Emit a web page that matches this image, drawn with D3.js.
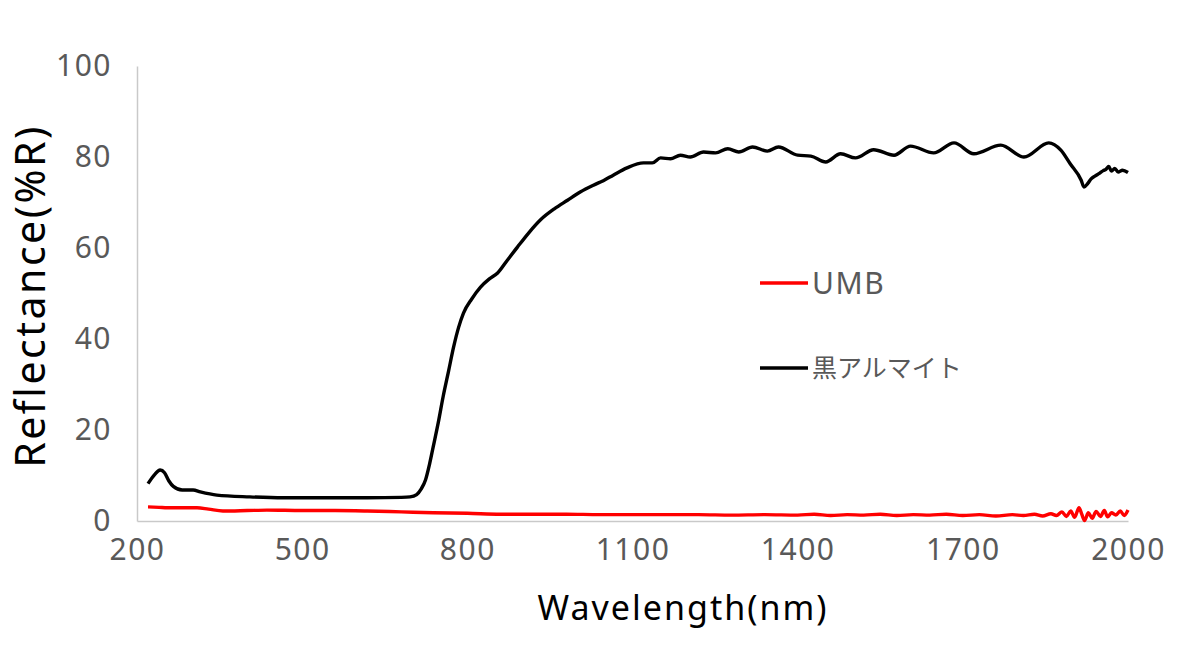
<!DOCTYPE html>
<html>
<head>
<meta charset="utf-8">
<script src="https://cdn.jsdelivr.net/npm/d3@7"></script>
<style>
  body { margin: 0; background: #fff; }
  text { font-family: "Noto Sans", "Noto Sans CJK JP", sans-serif; }
</style>
</head>
<body>
<div id="chart"></div>
<script>
// series names
var seriesNames = ["UMB", "黒アルマイト"];
var seriesColors = ["#ff0000", "#000000"];

// tick labels
var xTicks = [200, 500, 800, 1100, 1400, 1700, 2000];
var yTicks = [0, 20, 40, 60, 80, 100];

// 黒アルマイト (black anodized), wavelength nm / reflectance %
var blackWl = [220, 232, 242, 250, 258, 266, 282, 302, 315, 345, 405, 465, 540, 618, 680, 696, 708,
  716, 724, 731, 738, 747, 756, 766, 775, 784, 793, 808, 824, 840, 855, 872, 891, 912, 933, 958, 982,
  1005, 1029, 1047, 1065, 1090, 1120, 1136, 1151, 1169, 1187, 1205, 1229, 1251, 1273, 1293, 1318,
  1345, 1365, 1400, 1424, 1451, 1478, 1505, 1538, 1575, 1605, 1647, 1684, 1720, 1769, 1811, 1856,
  1878, 1895, 1915, 1920, 1927, 1933, 1940, 1948, 1955, 1960, 1965, 1970, 1976, 1982, 1990, 2000];
var blackVal = [8.2, 10.2, 11.2, 10.6, 8.8, 7.6, 6.8, 6.8, 6.4, 5.7, 5.3, 5.1, 5.1, 5.1, 5.2, 5.3, 5.8,
  7.0, 9.0, 12.3, 16.3, 21.5, 27.3, 33.0, 38.2, 42.5, 45.7, 48.8, 51.4, 53.2, 54.5, 57.2, 60.2, 63.4,
  66.2, 68.6, 70.5, 72.3, 73.8, 74.8, 76.0, 77.6, 78.7, 78.7, 79.8, 79.6, 80.4, 80.0, 81.1, 80.9, 81.8,
  81.1, 82.2, 81.3, 82.2, 80.4, 80.2, 78.9, 80.7, 79.8, 81.6, 80.4, 82.4, 80.9, 83.1, 80.7, 82.6, 80.0,
  83.1, 81.5, 78.5, 74.9, 73.4, 74.2, 75.2, 75.8, 76.4, 77.0, 77.3, 77.9, 76.9, 77.5, 76.7, 77.1, 76.6];

// UMB, wavelength nm / reflectance %
var umbWl = [220, 240, 255, 280, 309, 330, 356, 400, 436, 500, 560, 618, 680, 738, 800, 860, 920, 980,
  1040, 1100, 1160, 1220, 1280, 1340, 1400, 1430, 1460, 1490, 1520, 1550, 1580, 1610, 1640, 1670,
  1700, 1730, 1760, 1790, 1810, 1830, 1845, 1860, 1870, 1880, 1888, 1896, 1903, 1911, 1916, 1921,
  1928, 1935, 1942, 1950, 1957, 1963, 1970, 1978, 1986, 1993, 2000];
var umbVal = [3.1, 3.0, 2.9, 2.9, 2.9, 2.6, 2.2, 2.3, 2.4, 2.3, 2.3, 2.2, 2.0, 1.8, 1.7, 1.5, 1.5, 1.5,
  1.4, 1.4, 1.4, 1.4, 1.3, 1.4, 1.3, 1.5, 1.2, 1.4, 1.3, 1.5, 1.2, 1.4, 1.3, 1.5, 1.2, 1.4, 1.1, 1.4,
  1.2, 1.5, 1.1, 1.6, 1.2, 2.0, 1.0, 2.2, 0.8, 2.9, 1.5, 0.1, 1.8, 0.6, 2.1, 1.0, 2.3, 0.9, 1.8, 1.3,
  2.2, 1.2, 2.4];

var W = 1200, H = 646;
var margin = {left: 137, right: 72, top: 66, bottom: 125};

var svg = d3.select("#chart").append("svg")
  .attr("width", W)
  .attr("height", H);

var x = d3.scaleLinear().domain([200, 2000]).range([margin.left, W - margin.right]);
var y = d3.scaleLinear().domain([0, 100]).range([H - margin.bottom, margin.top]);

// axes
var xAxis = svg.append("g")
  .attr("transform", "translate(0," + y(0) + ")")
  .call(d3.axisBottom(x).tickValues(xTicks).tickSize(0).tickPadding(18).tickFormat(d3.format("d")));
var yAxis = svg.append("g")
  .attr("transform", "translate(" + x(200) + ",0)")
  .call(d3.axisLeft(y).tickValues(yTicks).tickSize(0).tickPadding(25));

[xAxis, yAxis].forEach(function(a){
  a.select(".domain").attr("stroke", "#c9c9c9").attr("stroke-width", 1.5);
  a.selectAll("text").attr("fill", "#595959").style("font-size", "30px")
    .style("letter-spacing", "1.5px");
});

// lines
var line = d3.line()
  .x(function(d){ return x(d[0]); })
  .y(function(d){ return y(d[1]); })
  .curve(d3.curveMonotoneX);

var umbData = umbWl.map(function(w, i){ return [w, umbVal[i]]; });
var blackData = blackWl.map(function(w, i){ return [w, blackVal[i]]; });

svg.append("path").datum(umbData)
  .attr("d", line).attr("fill", "none")
  .attr("stroke", seriesColors[0]).attr("stroke-width", 3.4)
  .attr("stroke-linejoin", "round");
svg.append("path").datum(blackData)
  .attr("d", line).attr("fill", "none")
  .attr("stroke", seriesColors[1]).attr("stroke-width", 3.4)
  .attr("stroke-linejoin", "round");

// legend
var legendY = [283, 368];
seriesNames.forEach(function(name, i){
  svg.append("line")
    .attr("x1", 760).attr("x2", 808)
    .attr("y1", legendY[i]).attr("y2", legendY[i])
    .attr("stroke", seriesColors[i]).attr("stroke-width", 3.4);
  svg.append("text")
    .attr("x", 812).attr("y", legendY[i])
    .attr("dy", "0.36em")
    .attr("fill", "#595959")
    .style("font-size", i == 0 ? "30px" : "25px")
    .style("letter-spacing", i == 0 ? "1.5px" : "0px")
    .style("font-family", i == 0 ? "'Noto Sans', sans-serif" : "'Noto Sans CJK JP', sans-serif")
    .text(name);
});

// axis titles
svg.append("text")
  .attr("x", 683).attr("y", 608).attr("dy", "0.36em")
  .attr("text-anchor", "middle")
  .attr("fill", "#000")
  .style("font-size", "34px")
  .style("letter-spacing", "2px")
  .text("Wavelength(nm)");
svg.append("text")
  .attr("transform", "translate(30,296) rotate(-90)")
  .attr("dy", "0.36em")
  .attr("text-anchor", "middle")
  .attr("fill", "#000")
  .style("font-size", "41px")
  .style("letter-spacing", "2.5px")
  .text("Reflectance(%R)");
</script>
</body>
</html>
